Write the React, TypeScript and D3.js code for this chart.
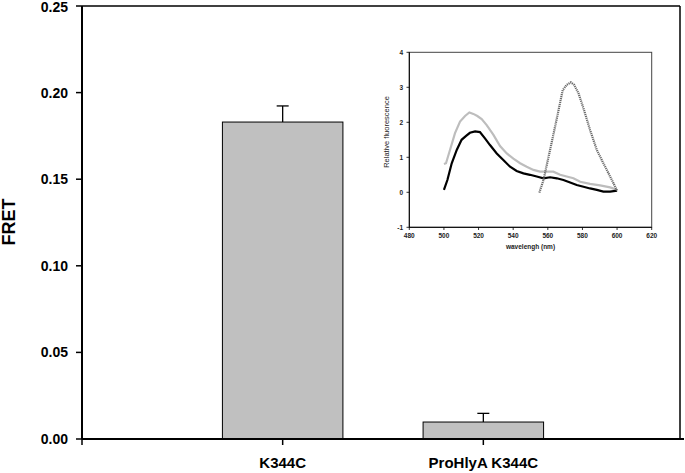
import React from "react";
import * as d3 from "d3";

const categories = ["K344C", "ProHlyA K344C"];
const fretValues = [0.183, 0.0098];
const fretErrors = [0.0093, 0.005];
const yTicks = [0, 0.05, 0.1, 0.15, 0.2, 0.25];

// inset series: [wavelength, relative fluorescence]
const donorOnly: [number, number][] = [
  [500, 0.81], [501.2, 0.83], [503.5, 1.21], [506.4, 1.69], [509.3, 2.02], [512.2, 2.18],
  [514.7, 2.28], [517, 2.24], [519.3, 2.18], [521.8, 2.09], [524.7, 1.92], [528.6, 1.64],
  [532.4, 1.32], [536.3, 1.11], [540.1, 0.96], [544, 0.83], [547.8, 0.73], [551.7, 0.64],
  [555.5, 0.59], [559.4, 0.59], [563.2, 0.59], [567.1, 0.5], [570.9, 0.45], [574.8, 0.4],
  [578.7, 0.3], [584.4, 0.24], [590.2, 0.2], [596, 0.14], [600, 0.07],
];
const donorAcceptor: [number, number][] = [
  [500, 0.07], [502, 0.35], [504.5, 0.83], [507.4, 1.21], [510.2, 1.5], [512.8, 1.61],
  [515, 1.7], [518, 1.74], [520.8, 1.72], [523.7, 1.54], [526.6, 1.35], [530.5, 1.11],
  [534.3, 0.92], [538.2, 0.73], [542, 0.61], [545.9, 0.54], [549.7, 0.5], [553.6, 0.45],
  [557.5, 0.4], [561.3, 0.43], [565.2, 0.4], [569, 0.35], [572.9, 0.28], [576.7, 0.21],
  [580.6, 0.16], [584.4, 0.11], [588.3, 0.07], [592.1, 0.02], [596, 0.02], [600, 0.05],
];
const acceptorOnly: [number, number][] = [
  [555.1, -0.01], [557.5, 0.35], [561.3, 1.21], [565.2, 2.11], [568.6, 2.92], [570.9, 3.07],
  [573.3, 3.14], [575.2, 3.07], [577.7, 2.83], [580.6, 2.4], [584.4, 1.78], [588.3, 1.21],
  [592.1, 0.83], [596, 0.45], [600, 0.05],
];
const insetXTicks = [480, 500, 520, 540, 560, 580, 600, 620];
const insetYTicks = [-1, 0, 1, 2, 3, 4];

export default function App() {
  const W = 685, H = 473;
  const x = d3.scaleLinear().domain([0, 3]).range([82, 684]);
  const y = d3.scaleLinear().domain([0, 0.25]).range([439, 6]);
  const barW = 120.5;

  const ix = d3.scaleLinear().domain([480, 620]).range([409.3, 651.7]);
  const iy = d3.scaleLinear().domain([-1, 4]).range([227.3, 52.3]);
  const line = d3.line<[number, number]>().x(d => ix(d[0])).y(d => iy(d[1])).curve(d3.curveLinear);

  const font = "Arial, 'Liberation Sans', sans-serif";

  return (
    <svg width={W} height={H} style={{ position: "absolute", left: 0, top: 0, display: "block" }} fontFamily={font}>
      <rect x={0} y={0} width={W} height={H} fill="white" />
      {/* frame top/right */}
      <line x1={82} x2={680} y1={6} y2={6} stroke="black" strokeWidth={1.5} />
      <line x1={680} x2={680} y1={6} y2={439} stroke="black" strokeWidth={1.5} />
      {/* bars */}
      {categories.map((c, i) => {
        const cx = x(i + 1);
        const v = fretValues[i];
        const e = fretErrors[i];
        return (
          <g key={c}>
            <rect x={cx - barW / 2} y={y(v)} width={barW} height={y(0) - y(v)} fill="#c0c0c0" stroke="black" strokeWidth={1} />
            <line x1={cx} x2={cx} y1={y(v)} y2={y(v + e)} stroke="black" strokeWidth={1.3} />
            <line x1={cx - 6} x2={cx + 6} y1={y(v + e)} y2={y(v + e)} stroke="black" strokeWidth={1.3} />
            <line x1={cx} x2={cx} y1={439} y2={445} stroke="black" strokeWidth={1.5} />
            <text x={cx} y={468} textAnchor="middle" fontWeight="bold" fontSize={15}>{c}</text>
          </g>
        );
      })}
      {/* axes */}
      <line x1={82} x2={82} y1={6} y2={439} stroke="black" strokeWidth={2} />
      <line x1={82} x2={684} y1={439} y2={439} stroke="black" strokeWidth={2} />
      <line x1={82} x2={82} y1={439} y2={445} stroke="black" strokeWidth={1.5} />
      {yTicks.map(t => (
        <g key={t}>
          <line x1={76} x2={82} y1={y(t)} y2={y(t)} stroke="black" strokeWidth={1.5} />
          <text x={68} y={Math.max(y(t) + 5, 12)} textAnchor="end" fontWeight="bold" fontSize={14}>{t.toFixed(2)}</text>
        </g>
      ))}
      <text transform={`translate(15,222) rotate(-90)`} textAnchor="middle" fontWeight="bold" fontSize={18}>FRET</text>

      {/* inset */}
      <rect x={409.3} y={52.3} width={651.7 - 409.3} height={227.3 - 52.3} fill="white" stroke="#444" strokeWidth={1} />
      <line x1={409.3} x2={409.3} y1={52.3} y2={227.3} stroke="black" strokeWidth={1} />
      <line x1={409.3} x2={651.7} y1={227.3} y2={227.3} stroke="black" strokeWidth={1} />
      {insetYTicks.map(t => (
        <g key={t}>
          <line x1={406.5} x2={409.3} y1={iy(t)} y2={iy(t)} stroke="black" strokeWidth={0.8} />
          <text x={403} y={iy(t) + 2.3} textAnchor="end" fontWeight="bold" fontSize={6.5} fill="#222">{t}</text>
        </g>
      ))}
      {insetXTicks.map(t => (
        <g key={t}>
          <line x1={ix(t)} x2={ix(t)} y1={227.3} y2={230} stroke="black" strokeWidth={0.8} />
          <text x={ix(t)} y={238} textAnchor="middle" fontWeight="bold" fontSize={6.5} fill="#222">{t}</text>
        </g>
      ))}
      <text x={ix(550)} y={249} textAnchor="middle" fontWeight="bold" fontSize={6.5} fill="#222">wavelengh (nm)</text>
      <text transform={`translate(389,132) rotate(-90)`} textAnchor="middle" fontSize={7.5} fill="#222">Relative fluorescence</text>
      <path d={line(donorOnly) || ""} fill="none" stroke="#bdbdbd" strokeWidth={2.2} />
      <path d={line(donorAcceptor) || ""} fill="none" stroke="black" strokeWidth={2.2} />
      <path d={line(acceptorOnly) || ""} fill="none" stroke="#6a6a6a" strokeWidth={2.2} strokeDasharray="1.2,0.8" />
    </svg>
  );
}
